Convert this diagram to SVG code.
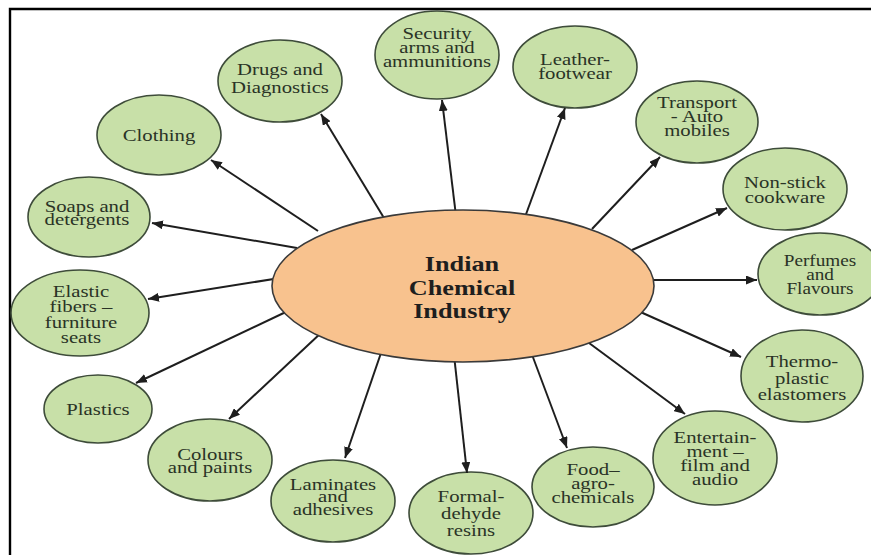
<svg xmlns="http://www.w3.org/2000/svg" width="871" height="555" viewBox="0 0 871 555">
<defs>
<style>
.n ellipse{fill:#c8e0a8;stroke:#3e4c3a;stroke-width:1.6}
.n text{font-family:"Liberation Serif","Times New Roman",serif;font-size:17px;fill:#2a3326;text-anchor:middle}
.c line{stroke:#1e1e1e;stroke-width:2}
.hub ellipse{fill:#f8c28e;stroke:#3a3a3a;stroke-width:1.6}
.hub text{font-family:"Liberation Serif","Times New Roman",serif;font-size:21px;font-weight:bold;fill:#1e1e1e;text-anchor:middle}
</style>
<marker id="ah" markerUnits="userSpaceOnUse" markerWidth="12" markerHeight="9" refX="11" refY="4.5" orient="auto">
<path d="M0,0 L11,4.5 L0,9 z" fill="#1e1e1e"/>
</marker>
</defs>
<rect width="871" height="555" fill="#fff"/>
<path d="M10,555 V9 H871" fill="none" stroke="#000" stroke-width="2.4"/>

<g id="clothing" class="n"><ellipse cx="159" cy="135" rx="62" ry="40"/><text transform="translate(159 0) scale(1.22 1)"><tspan x="0" y="141">Clothing</tspan></text></g>
<g id="drugs" class="n"><ellipse cx="280" cy="81" rx="62" ry="41"/><text transform="translate(280 0) scale(1.22 1)"><tspan x="0" y="75">Drugs and</tspan><tspan x="0" y="93">Diagnostics</tspan></text></g>
<g id="security" class="n"><ellipse cx="437" cy="55" rx="62" ry="44"/><text transform="translate(437 0) scale(1.22 1)"><tspan x="0" y="39">Security</tspan><tspan x="0" y="53">arms and</tspan><tspan x="0" y="67">ammunitions</tspan></text></g>
<g id="leather" class="n"><ellipse cx="575" cy="67" rx="62" ry="41"/><text transform="translate(575 0) scale(1.22 1)"><tspan x="0" y="65">Leather-</tspan><tspan x="0" y="79">footwear</tspan></text></g>
<g id="transport" class="n"><ellipse cx="697" cy="122" rx="61" ry="41"/><text transform="translate(697 0) scale(1.22 1)"><tspan x="0" y="108">Transport</tspan><tspan x="0" y="122">- Auto</tspan><tspan x="0" y="136">mobiles</tspan></text></g>
<g id="nonstick" class="n"><ellipse cx="785" cy="189" rx="62" ry="41"/><text transform="translate(785 0) scale(1.22 1)"><tspan x="0" y="188">Non-stick</tspan><tspan x="0" y="203">cookware</tspan></text></g>
<g id="perfumes" class="n"><ellipse cx="820" cy="274" rx="62" ry="41"/><text transform="translate(820 0) scale(1.2 1)" style="font-size:16px"><tspan x="0" y="266">Perfumes</tspan><tspan x="0" y="280">and</tspan><tspan x="0" y="294">Flavours</tspan></text></g>
<g id="thermo" class="n"><ellipse cx="802" cy="376" rx="61" ry="46"/><text transform="translate(802 0) scale(1.22 1)"><tspan x="0" y="367">Thermo-</tspan><tspan x="0" y="384">plastic</tspan><tspan x="0" y="400">elastomers</tspan></text></g>
<g id="entertainment" class="n"><ellipse cx="715" cy="458" rx="62" ry="47"/><text transform="translate(715 0) scale(1.22 1)"><tspan x="0" y="443">Entertain-</tspan><tspan x="0" y="457">ment –</tspan><tspan x="0" y="471">film and</tspan><tspan x="0" y="485">audio</tspan></text></g>
<g id="food" class="n"><ellipse cx="593" cy="487" rx="61" ry="40"/><text transform="translate(593 0) scale(1.22 1)"><tspan x="0" y="475">Food–</tspan><tspan x="0" y="489">agro-</tspan><tspan x="0" y="503">chemicals</tspan></text></g>
<g id="formaldehyde" class="n"><ellipse cx="471" cy="513" rx="62" ry="41"/><text transform="translate(471 0) scale(1.22 1)"><tspan x="0" y="502">Formal-</tspan><tspan x="0" y="519">dehyde</tspan><tspan x="0" y="536">resins</tspan></text></g>
<g id="laminates" class="n"><ellipse cx="333" cy="501" rx="62" ry="41"/><text transform="translate(333 0) scale(1.22 1)"><tspan x="0" y="490">Laminates</tspan><tspan x="0" y="502">and</tspan><tspan x="0" y="515">adhesives</tspan></text></g>
<g id="colours" class="n"><ellipse cx="210" cy="460" rx="62" ry="41"/><text transform="translate(210 0) scale(1.22 1)"><tspan x="0" y="460">Colours</tspan><tspan x="0" y="473">and paints</tspan></text></g>
<g id="plastics" class="n"><ellipse cx="98" cy="409" rx="54" ry="34"/><text transform="translate(98 0) scale(1.22 1)"><tspan x="0" y="415">Plastics</tspan></text></g>
<g id="elastic" class="n"><ellipse cx="80" cy="313" rx="69" ry="43"/><text transform="translate(81 0) scale(1.22 1)"><tspan x="0" y="297">Elastic</tspan><tspan x="0" y="312">fibers –</tspan><tspan x="0" y="328">furniture</tspan><tspan x="0" y="343">seats</tspan></text></g>
<g id="soaps" class="n"><ellipse cx="89" cy="217" rx="61" ry="40"/><text transform="translate(87 0) scale(1.22 1)"><tspan x="0" y="212">Soaps and</tspan><tspan x="0" y="225">detergents</tspan></text></g>

<g id="connectors" class="c">
<line x1="318" y1="231" x2="211" y2="160" marker-end="url(#ah)"/>
<line x1="384" y1="218" x2="321" y2="114" marker-end="url(#ah)"/>
<line x1="456" y1="216" x2="442" y2="100" marker-end="url(#ah)"/>
<line x1="525" y1="217" x2="565" y2="108" marker-end="url(#ah)"/>
<line x1="592" y1="229" x2="660" y2="157" marker-end="url(#ah)"/>
<line x1="632" y1="250" x2="727" y2="208" marker-end="url(#ah)"/>
<line x1="648" y1="280" x2="757" y2="280" marker-end="url(#ah)"/>
<line x1="636" y1="310" x2="741" y2="357" marker-end="url(#ah)"/>
<line x1="585" y1="340" x2="685" y2="414" marker-end="url(#ah)"/>
<line x1="531" y1="352" x2="567" y2="448" marker-end="url(#ah)"/>
<line x1="454" y1="355" x2="467" y2="473" marker-end="url(#ah)"/>
<line x1="382" y1="350" x2="345" y2="458" marker-end="url(#ah)"/>
<line x1="322" y1="332" x2="229" y2="419" marker-end="url(#ah)"/>
<line x1="290" y1="310" x2="136" y2="383" marker-end="url(#ah)"/>
<line x1="280" y1="278" x2="148" y2="299" marker-end="url(#ah)"/>
<line x1="297" y1="248" x2="152" y2="223" marker-end="url(#ah)"/>
</g>

<g id="hub" class="hub"><ellipse cx="463" cy="286" rx="191" ry="76"/><text transform="translate(462 0) scale(1.25 1)"><tspan x="0" y="271">Indian</tspan><tspan x="0" y="295">Chemical</tspan><tspan x="0" y="318">Industry</tspan></text></g>
</svg>
